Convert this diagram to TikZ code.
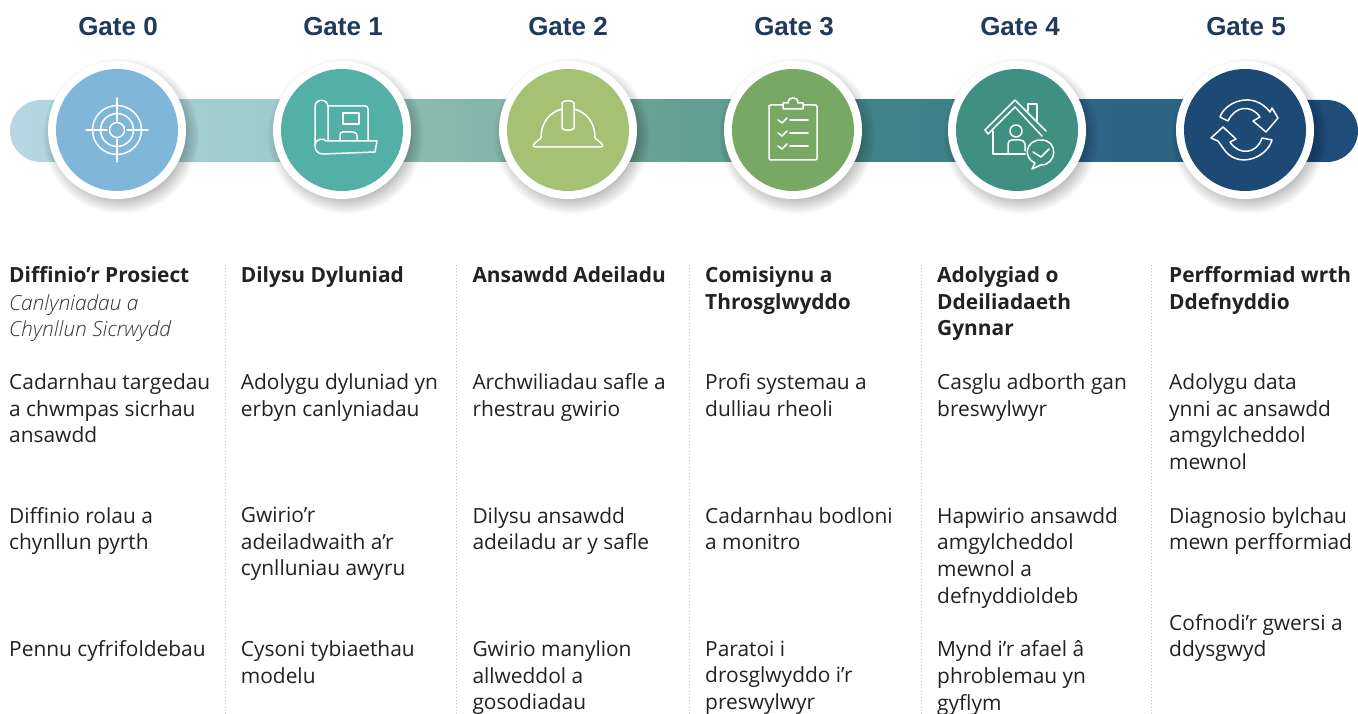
\documentclass[tikz,border=0pt]{standalone}
\usepackage{fontspec}
\setmainfont{Open Sans}
\newfontfamily\gatefont{Liberation Sans}
\newfontfamily\lightit{Open Sans Light Italic}
\definecolor{navy}{HTML}{1F3A5C}
\definecolor{txt}{HTML}{222222}
\definecolor{sepc}{HTML}{C4C4C4}
\definecolor{c0}{HTML}{7FB6D9}
\definecolor{c1}{HTML}{52B0A7}
\definecolor{c2}{HTML}{A5C274}
\definecolor{c3}{HTML}{78A964}
\definecolor{c4}{HTML}{3F8F82}
\definecolor{c5}{HTML}{1C4A75}
\definecolor{e0}{HTML}{B8D8E4}\definecolor{e1}{HTML}{A6CFD6}
\definecolor{s0a}{HTML}{A6CFD4}\definecolor{s0b}{HTML}{9CC9CB}
\definecolor{s1a}{HTML}{93BFB5}\definecolor{s1b}{HTML}{7DB0A4}
\definecolor{s2a}{HTML}{6FA596}\definecolor{s2b}{HTML}{5B9A90}
\definecolor{s3a}{HTML}{42868A}\definecolor{s3b}{HTML}{3C7F88}
\definecolor{s4a}{HTML}{31698A}\definecolor{s4b}{HTML}{2B6080}
\definecolor{s5}{HTML}{1F4C78}
\tikzset{
 x=1pt,y=-1pt,
 gatelabel/.style={font=\gatefont\bfseries\fontsize{26}{28}\selectfont,text=navy,anchor=center,inner sep=0pt},
 ring/.style={circle,fill=white,minimum size=138pt,inner sep=0pt},
 disc/.style={circle,minimum size=122pt,inner sep=0pt},
 softshadow/.style={fill=black,opacity=0.017},
 ico/.style={draw=white,line width=1.5pt,line join=round,line cap=round,fill=none},
 head/.style={font=\bfseries\fontsize{20.9}{26.7}\selectfont,text=txt,anchor=north west,inner sep=0pt,align=left,execute at begin node=\rule{0pt}{16pt}},
 body/.style={font=\fontsize{20.9}{26.7}\selectfont,text=txt,anchor=north west,inner sep=0pt,align=left,execute at begin node=\rule{0pt}{16pt}},
 subh/.style={font=\lightit\fontsize{20.9}{26.7}\selectfont,text=black!80,anchor=north west,inner sep=0pt,align=left,execute at begin node=\rule{0pt}{16pt}},
 sepline/.style={draw=sepc,line width=0.9pt,dash pattern=on 1pt off 2.2pt},
}
\begin{document}
\begin{tikzpicture}
\useasboundingbox (0,0) rectangle (1358,714);
\fill[white] (0,0) rectangle (1358,714);
% band
\shade[left color=e0,right color=e1] (41,100) .. controls (24,100) and (10,114) .. (10,131) .. controls (10,148) and (24,162) .. (41,162) -- (117,162) -- (117,100) -- cycle;
\shade[left color=s0a,right color=s0b] (117,100) rectangle (342,162);
\shade[left color=s1a,right color=s1b] (342,100) rectangle (568,162);
\shade[left color=s2a,right color=s2b] (568,100) rectangle (793,162);
\shade[left color=s3a,right color=s3b] (793,100) rectangle (1017,162);
\shade[left color=s4a,right color=s4b] (1017,100) rectangle (1245,162);
\fill[s5] (1245,100) -- (1327,100) .. controls (1344,100) and (1358,114) .. (1358,131) .. controls (1358,148) and (1344,162) .. (1327,162) -- (1245,162) -- cycle;
% gates
\foreach \n/\x/\c in {0/117/c0,1/342/c1,2/568/c2,3/793/c3,4/1017/c4,5/1245/c5}{
 \foreach \r in {62,63,...,78}{\fill[softshadow] ({\x+4},136) circle[radius=\r];}
 \node[ring] (r\n) at (\x,130) {};
 \node[disc,fill=\c] (d\n) at (\x,130) {};
}
\node[gatelabel] (g0) at (118,27) {Gate 0};
\node[gatelabel] (g1) at (343,27) {Gate 1};
\node[gatelabel] (g2) at (568,27) {Gate 2};
\node[gatelabel] (g3) at (794,27) {Gate 3};
\node[gatelabel] (g4) at (1020,27) {Gate 4};
\node[gatelabel] (g5) at (1246,27) {Gate 5};
% icon 0 target
\begin{scope}[shift={(117,130)}]
 \draw[ico] (0,0) circle[radius=24.5];
 \draw[ico] (0,0) circle[radius=16.5];
 \draw[ico] (0,0) circle[radius=7.5];
 \draw[ico] (-31,0)--(-10,0) (10,0)--(31,0) (0,-32)--(0,-9) (0,9)--(0,32);
\end{scope}
% icon 1 blueprint
\begin{scope}[shift={(343,130)}]
 \draw[ico] (-28,15) -- (-28,-23) .. controls (-28,-32) and (-15,-32) .. (-15,-23) -- (-15,11);
 \draw[ico] (-15,-24) -- (22,-24) .. controls (24,-24) and (25,-23) .. (25,-21) -- (25,11);
 \draw[ico] (-28,15) .. controls (-27,8) and (-19,8) .. (-17,11) -- (34,11) -- (32,22) -- (-20,24) .. controls (-26,24) and (-28,20) .. (-28,15);
 \draw[ico] (0,-17) rectangle (16,-6);
 \draw[ico] (-3,11) -- (-3,5) .. controls (-3,3) and (-2,2) .. (0,2) -- (10,2) .. controls (13,2) and (14,4) .. (14,6) -- (14,11);
\end{scope}
% icon 2 helmet
\begin{scope}[shift={(568,130)}]
 \draw[ico] (-27,8) .. controls (-27,-8) and (-18,-18) .. (-6,-21);
 \draw[ico] (6,-21) .. controls (18,-18) and (27,-8) .. (27,8);
 \draw[ico] (-6,-2) -- (-6,-27) .. controls (-6,-30) and (6,-30) .. (6,-27) -- (6,-2) .. controls (6,1) and (-6,1) .. (-6,-2);
 \draw[ico] (-27,8) -- (-33,13) .. controls (-36,16) and (-35,17) .. (-31,17) -- (31,17) .. controls (35,17) and (36,16) .. (33,13) -- (27,8);
\end{scope}
% icon 3 clipboard
\begin{scope}[shift={(793,130)}]
 \draw[ico] (-10,-25) -- (-22,-25) .. controls (-24,-25) and (-24,-24) .. (-24,-23) -- (-24,28) .. controls (-24,30) and (-23,30) .. (-22,30) -- (22,30) .. controls (24,30) and (24,29) .. (24,28) -- (24,-23) .. controls (24,-25) and (23,-25) .. (22,-25) -- (10,-25);
 \draw[ico] (-10,-21) -- (-10,-27) -- (-5,-27) .. controls (-5,-34) and (5,-34) .. (5,-27) -- (10,-27) -- (10,-21) -- cycle;
 \foreach \y in {-10,3,16}{
  \draw[ico] (-15,\y) -- (-11,{\y+3}) -- (-6,{\y-2});
  \draw[ico] (-3,\y) -- (15,\y);
 }
\end{scope}
% icon 4 house
\begin{scope}[shift={(1017,130)}]
 \draw[ico] (-32,0) -- (-2,-30) -- (29,1);
 \draw[ico] (-32,0) -- (-29,4) -- (-2,-23) -- (25,6);
 \draw[ico] (-24,1) -- (-24,24) -- (8,24);
 \draw[ico] (11,-19) -- (11,-26) -- (20,-26) -- (20,-9);
 \draw[ico] (-1,1) circle[radius=6];
 \draw[ico] (-9,24) -- (-9,14) .. controls (-9,11) and (-7,10) .. (-5,10) -- (3,10) .. controls (6,10) and (8,12) .. (8,14) -- (8,21);
 \draw[ico] (18,33) .. controls (6,28) and (8,10) .. (24,10) .. controls (42,10) and (40,35) .. (24,35) -- (15,39) -- (18,33);
 \draw[ico] (16,22) -- (24,27) -- (32,19);
\end{scope}
% icon 5 cycle
\begin{scope}[shift={(1245,130)}]
 \draw[ico] (-25,-13) .. controls (-20,-28) and (8,-40) .. (25,-18) -- (27,-22) -- (33,-12) -- (21,2) -- (8,-9) -- (15,-13) .. controls (6,-26) and (-10,-24) .. (-17,-9) -- cycle;
 \draw[ico] (27,10) .. controls (22,28) and (-8,40) .. (-22,18) -- (-27,11) -- (-34,8) -- (-22,-3) -- (-9,9) -- (-15,12) .. controls (-6,26) and (12,24) .. (17,8) -- cycle;
\end{scope}
% separators
\coordinate (s1t) at (225.7,265); \coordinate (s1b) at (225.7,714);
\coordinate (s2t) at (456.7,265); \coordinate (s2b) at (456.7,714);
\coordinate (s3t) at (689,265); \coordinate (s3b) at (689,714);
\coordinate (s4t) at (921,265); \coordinate (s4b) at (921,714);
\coordinate (s5t) at (1151.7,265); \coordinate (s5b) at (1151.7,714);
\foreach \i in {1,...,5}{\draw[sepline] (s\i t) -- (s\i b);}
% column 0
\node[head] (h0) at (9,266.5) {Diffinio’r Prosiect};
\node[subh] (h0b) at (9,294) {Canlyniadau a\\Chynllun Sicrwydd};
\node[body] (a0) at (9,373.5) {Cadarnhau targedau\\a chwmpas sicrhau\\ansawdd};
\node[body] (b0) at (9,507) {Diffinio rolau a\\chynllun pyrth};
\node[body] (c0n) at (9,640.5) {Pennu cyfrifoldebau};
% column 1
\node[head] (h1) at (240.7,266.5) {Dilysu Dyluniad};
\node[body] (a1) at (240.7,373.5) {Adolygu dyluniad yn\\erbyn canlyniadau};
\node[body] (b1n) at (240.7,507) {Gwirio’r\\adeiladwaith a’r\\cynlluniau awyru};
\node[body] (c1n) at (240.7,640.5) {Cysoni tybiaethau\\modelu};
% column 2
\node[head] (h2) at (472.3,266.5) {Ansawdd Adeiladu};
\node[body] (a2) at (472.3,373.5) {Archwiliadau safle a\\rhestrau gwirio};
\node[body] (b2n) at (472.3,507) {Dilysu ansawdd\\adeiladu ar y safle};
\node[body] (c2n) at (472.3,640.5) {Gwirio manylion\\allweddol a\\gosodiadau};
% column 3
\node[head] (h3) at (705,266.5) {Comisiynu a\\Throsglwyddo};
\node[body] (a3) at (705,373.5) {Profi systemau a\\dulliau rheoli};
\node[body] (b3n) at (705,507) {Cadarnhau bodloni\\a monitro};
\node[body] (c3n) at (705,640.5) {Paratoi i\\drosglwyddo i’r\\preswylwyr};
% column 4
\node[head] (h4) at (937,266.5) {Adolygiad o\\Ddeiliadaeth\\Gynnar};
\node[body] (a4) at (937,373.5) {Casglu adborth gan\\breswylwyr};
\node[body] (b4n) at (937,507) {Hapwirio ansawdd\\amgylcheddol\\mewnol a\\defnyddioldeb};
\node[body] (c4n) at (937,640.5) {Mynd i’r afael â\\phroblemau yn\\gyflym};
% column 5
\node[head] (h5) at (1169,266.5) {Perfformiad wrth\\Ddefnyddio};
\node[body] (a5) at (1169,373.5) {Adolygu data\\ynni ac ansawdd\\amgylcheddol\\mewnol};
\node[body] (b5n) at (1169,507) {Diagnosio bylchau\\mewn perfformiad};
\node[body] (c5n) at (1169,614) {Cofnodi’r gwersi a\\ddysgwyd};
\end{tikzpicture}
\end{document}
